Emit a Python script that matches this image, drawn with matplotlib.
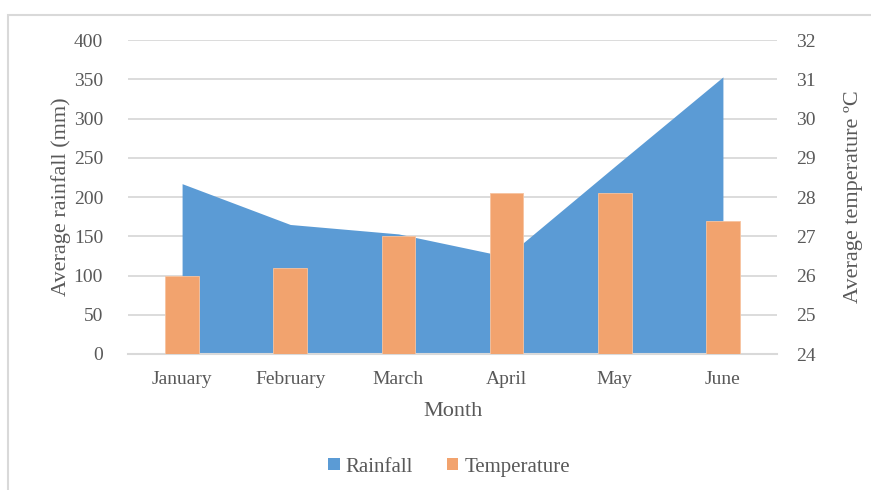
import matplotlib
matplotlib.use("Agg")
import matplotlib.pyplot as plt
from matplotlib.patches import Rectangle, Patch
import numpy as np

months = ["January", "February", "March", "April", "May", "June"]
rainfall_mm = [217, 165, 153, 124, 239, 353]
temperature_c = [26.0, 26.2, 27.0, 28.1, 28.1, 27.4]
rain_ticks = [0, 50, 100, 150, 200, 250, 300, 350, 400]
temp_ticks = [24, 25, 26, 27, 28, 29, 30, 31, 32]

BLUE = "#5B9BD5"
ORANGE = "#F2A36E"
GRID = "#D9D9D9"
TEXT = "#595959"

plt.rcParams["font.family"] = ["Liberation Serif", "DejaVu Serif"]

W, H = 871, 490
fig = plt.figure(figsize=(W / 100, H / 100), dpi=100)

# chart frame
fig.patches.append(Rectangle((8 / W, -0.1), 1.2, 1 - 15 / H + 0.1,
                             transform=fig.transFigure, fill=False,
                             edgecolor=GRID, linewidth=1.5))

left, right, top, bottom = 128 / W, 777 / W, 1 - 40 / H, 1 - 354 / H
ax = fig.add_axes([left, bottom, right - left, top - bottom])
x = np.arange(len(months))

ax.fill_between(x, 0, rainfall_mm, color=BLUE, linewidth=0, zorder=2)
ax.set_xlim(-0.5, len(months) - 0.5)
ax.set_ylim(rain_ticks[0], rain_ticks[-1])
ax.set_yticks(rain_ticks)
ax.yaxis.grid(True, color=GRID, linewidth=1.3, zorder=0)
ax.set_axisbelow(True)
for s in ["top", "right", "left"]:
    ax.spines[s].set_visible(False)
ax.spines["bottom"].set_color(GRID)
ax.spines["bottom"].set_linewidth(1.5)
ax.spines["bottom"].set_zorder(5)
ax.set_xticks(x)
ax.set_xticklabels(months)
ax.tick_params(axis="x", length=0, pad=12, labelsize=14, labelcolor=TEXT)
ax.tick_params(axis="y", length=0, pad=18, labelsize=14, labelcolor=TEXT)
ax.set_xlabel("Month", fontsize=16, color=TEXT, labelpad=10)
ax.set_ylabel("Average rainfall (mm)", fontsize=16, color=TEXT, labelpad=2)

ax2 = ax.twinx()
ax2.bar(x, temperature_c, width=0.31, bottom=0, color=ORANGE,
        edgecolor="#F7C4A0", linewidth=0.6, zorder=3)
ax2.set_ylim(temp_ticks[0], temp_ticks[-1])
ax2.set_yticks(temp_ticks)
for s in ["top", "right", "left", "bottom"]:
    ax2.spines[s].set_visible(False)
ax2.tick_params(axis="y", length=0, pad=14, labelsize=14, labelcolor=TEXT)
ax2.set_ylabel("Average temperature ºC", fontsize=16, color=TEXT, labelpad=20)

handles = [Patch(facecolor=BLUE, label="Rainfall"),
           Patch(facecolor=ORANGE, label="Temperature")]
fig.legend(handles=handles, loc="center",
           bbox_to_anchor=(449 / W, 1 - 467 / H),
           ncol=2, frameon=False, fontsize=15, handlelength=0.55,
           handleheight=0.55, handletextpad=0.3, columnspacing=1.6,
           labelcolor=TEXT)

fig.savefig("out.png", dpi=100)
